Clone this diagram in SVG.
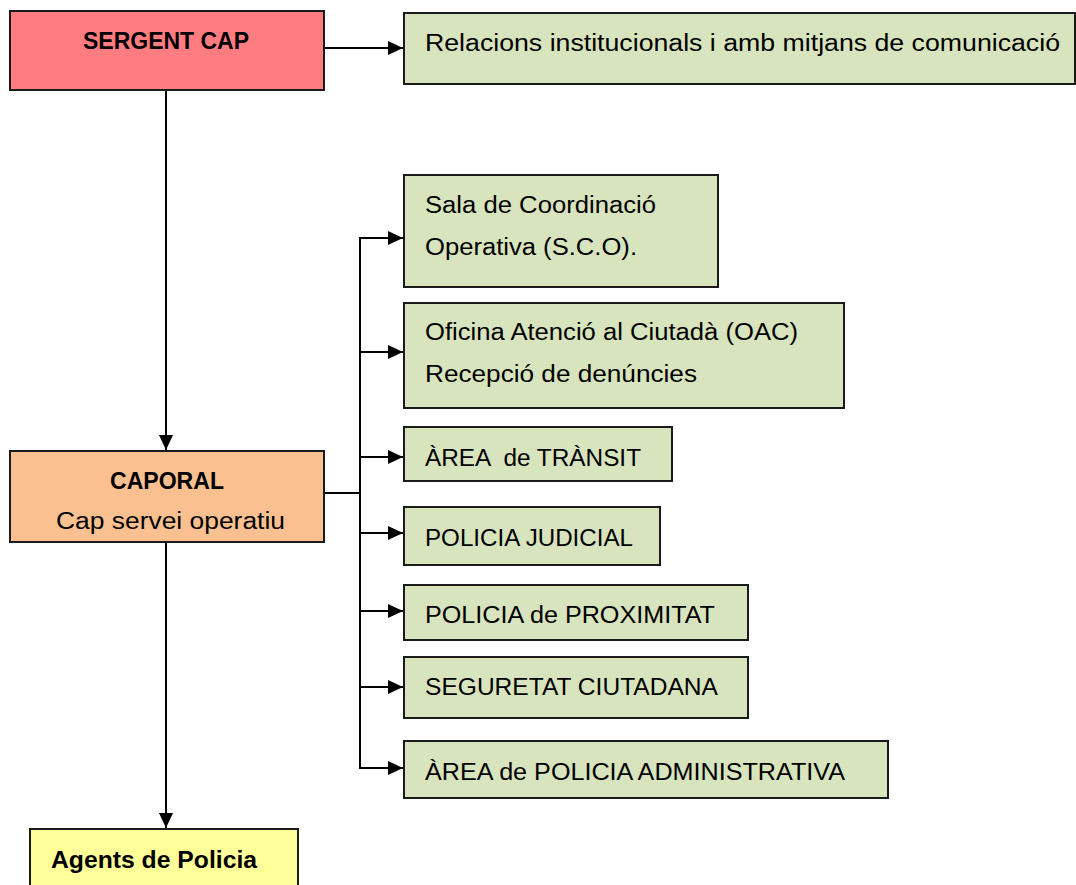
<svg xmlns="http://www.w3.org/2000/svg" width="1076" height="885" viewBox="0 0 1076 885">
<style>
.box{stroke:#1a1a1a;stroke-width:2}
.g{fill:#D7E4BD}
.t{font-family:"Liberation Sans",Arial,sans-serif;font-size:23.5px;fill:#000;white-space:pre}
.b{font-weight:bold}
.c{stroke:#000;stroke-width:2;fill:none}
</style>
<defs>
<marker id="ah" markerWidth="15" markerHeight="14" refX="15" refY="7" orient="auto" markerUnits="userSpaceOnUse">
<path d="M0,0 L15,7 L0,14 Z" fill="#000"/>
</marker>
</defs>
<rect width="1076" height="885" fill="#fff"/>
<g id="connectors">
<line class="c" x1="324" y1="48" x2="403" y2="48" marker-end="url(#ah)"/>
<line class="c" x1="166" y1="90" x2="166" y2="450" marker-end="url(#ah)"/>
<line class="c" x1="166" y1="542" x2="166" y2="828" marker-end="url(#ah)"/>
<polyline class="c" points="324,493 360,493"/>
<line class="c" x1="360" y1="237" x2="360" y2="769"/>
<line class="c" x1="359" y1="238" x2="403" y2="238" marker-end="url(#ah)"/>
<line class="c" x1="360" y1="352" x2="403" y2="352" marker-end="url(#ah)"/>
<line class="c" x1="360" y1="457" x2="403" y2="457" marker-end="url(#ah)"/>
<line class="c" x1="360" y1="533" x2="403" y2="533" marker-end="url(#ah)"/>
<line class="c" x1="360" y1="611" x2="403" y2="611" marker-end="url(#ah)"/>
<line class="c" x1="360" y1="687" x2="403" y2="687" marker-end="url(#ah)"/>
<line class="c" x1="359" y1="768" x2="403" y2="768" marker-end="url(#ah)"/>
</g>
<g id="sergent">
<rect class="box" x="10" y="11" width="314" height="79" fill="#FF7C80"/>
<text class="t b" x="83" y="49" textLength="166" lengthAdjust="spacingAndGlyphs">SERGENT CAP</text>
</g>
<g id="relacions">
<rect class="box g" x="404" y="13" width="671" height="71"/>
<text class="t" x="425" y="51" textLength="635" lengthAdjust="spacingAndGlyphs">Relacions institucionals i amb mitjans de comunicació</text>
</g>
<g id="caporal">
<rect class="box" x="10" y="451" width="314" height="91" fill="#FAC090"/>
<text class="t b" x="110" y="489" textLength="114" lengthAdjust="spacingAndGlyphs">CAPORAL</text>
<text class="t" x="56" y="529" textLength="229" lengthAdjust="spacingAndGlyphs">Cap servei operatiu</text>
</g>
<g id="agents">
<rect class="box" x="30" y="829" width="268" height="60" fill="#FFFF99"/>
<text class="t b" x="51" y="868" textLength="206" lengthAdjust="spacingAndGlyphs">Agents de Policia</text>
</g>
<g id="sco">
<rect class="box g" x="404" y="175" width="314" height="112"/>
<text class="t" x="425" y="213" textLength="231" lengthAdjust="spacingAndGlyphs">Sala de Coordinació</text>
<text class="t" x="425" y="255" textLength="212" lengthAdjust="spacingAndGlyphs">Operativa (S.C.O).</text>
</g>
<g id="oac">
<rect class="box g" x="404" y="303" width="440" height="105"/>
<text class="t" x="425" y="340" textLength="373" lengthAdjust="spacingAndGlyphs">Oficina Atenció al Ciutadà (OAC)</text>
<text class="t" x="425" y="382" textLength="272" lengthAdjust="spacingAndGlyphs">Recepció de denúncies</text>
</g>
<g id="transit">
<rect class="box g" x="404" y="427" width="268" height="54"/>
<text class="t" x="425" y="466" textLength="216" lengthAdjust="spacingAndGlyphs" xml:space="preserve">ÀREA  de TRÀNSIT</text>
</g>
<g id="judicial">
<rect class="box g" x="404" y="507" width="256" height="58"/>
<text class="t" x="425" y="546" textLength="208" lengthAdjust="spacingAndGlyphs">POLICIA JUDICIAL</text>
</g>
<g id="proximitat">
<rect class="box g" x="404" y="585" width="344" height="55"/>
<text class="t" x="425" y="623" textLength="290" lengthAdjust="spacingAndGlyphs">POLICIA de PROXIMITAT</text>
</g>
<g id="seguretat">
<rect class="box g" x="404" y="657" width="344" height="61"/>
<text class="t" x="425" y="695" textLength="293" lengthAdjust="spacingAndGlyphs">SEGURETAT CIUTADANA</text>
</g>
<g id="administrativa">
<rect class="box g" x="404" y="741" width="484" height="57"/>
<text class="t" x="425" y="780" textLength="420" lengthAdjust="spacingAndGlyphs">ÀREA de POLICIA ADMINISTRATIVA</text>
</g>
</svg>
